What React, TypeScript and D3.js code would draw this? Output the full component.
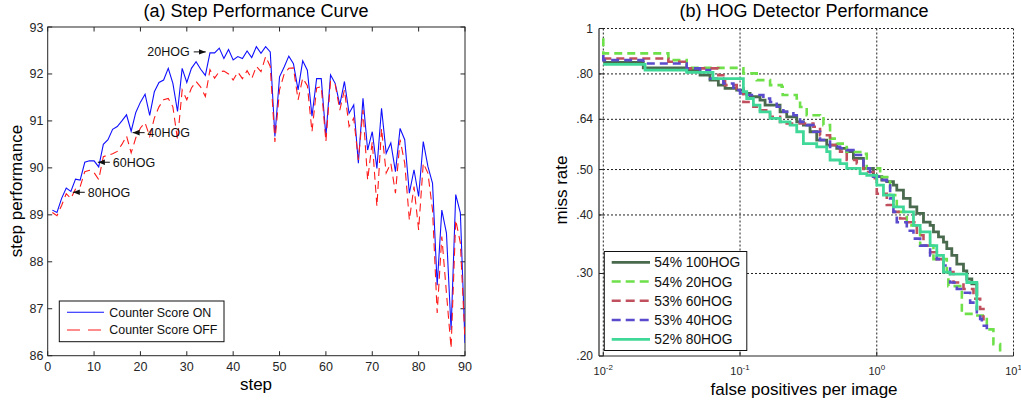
import React from 'react';
import * as d3 from 'd3';

// ---------- (a) Step Performance Curve ----------
const steps = d3.range(1, 91);
const counterOn = [
  89.10, 89.05, 89.35, 89.57, 89.50, 89.76, 89.74, 90.12, 90.15, 90.15,
  90.02, 90.50, 90.60, 90.82, 90.88, 91.00, 91.13, 90.78, 91.18, 91.40,
  91.57, 91.12, 91.62, 91.82, 91.87, 92.12, 91.80, 91.20, 92.12, 91.82,
  92.12, 92.26, 92.10, 91.97, 92.45, 92.45, 92.55, 92.33, 92.52, 92.30,
  92.37, 92.33, 92.49, 92.35, 92.58, 92.44, 92.58, 92.47, 90.67, 91.94,
  92.15, 92.38, 92.22, 91.66, 92.28, 92.08, 91.10, 91.90, 91.90, 90.67,
  91.98, 91.80, 91.34, 91.84, 91.16, 91.34, 90.10, 91.48, 90.38, 90.77,
  89.99, 91.27, 90.31, 90.53, 89.92, 90.84, 90.60, 89.46, 89.96, 89.39,
  90.56, 90.03, 89.67, 87.50, 89.10, 88.61, 86.55, 89.43, 89.04, 86.27,
];
const counterOff = [
  89.05, 88.98, 89.20, 89.45, 89.35, 89.55, 89.60, 89.92, 89.95, 89.90,
  89.75, 90.24, 90.27, 90.30, 90.35, 90.50, 90.68, 90.32, 90.64, 90.85,
  90.96, 90.67, 91.06, 91.30, 91.45, 91.48, 91.30, 90.60, 91.66, 91.45,
  91.70, 91.84, 91.72, 91.52, 92.09, 91.91, 92.05, 92.06, 92.00, 91.87,
  92.04, 91.90, 92.07, 91.90, 92.16, 92.05, 92.37, 92.16, 90.55, 91.66,
  92.00, 92.12, 92.13, 91.45, 91.91, 91.75, 90.77, 91.70, 91.73, 90.56,
  91.84, 91.78, 91.23, 91.66, 90.88, 91.06, 90.17, 91.23, 89.74, 90.56,
  89.18, 90.84, 89.89, 90.10, 89.46, 90.60, 90.10, 88.89, 89.60, 88.68,
  90.10, 89.89, 89.10, 86.91, 88.54, 87.33, 86.16, 88.89, 88.40, 86.34,
];
const annotations = [
  { label: '20HOG', step: 34.3, value: 92.47, dir: 'right' },
  { label: '40HOG', step: 18.1, value: 90.75, dir: 'left' },
  { label: '60HOG', step: 10.6, value: 90.12, dir: 'left' },
  { label: '80HOG', step: 5.2, value: 89.48, dir: 'left' },
];
const leftXTicks = [0, 10, 20, 30, 40, 50, 60, 70, 80, 90];
const leftYTicks = [86, 87, 88, 89, 90, 91, 92, 93];

// ---------- (b) HOG Detector Performance ----------
const hog100: [number, number][] = [
  [0.0100, 0.847], [0.0196, 0.847], [0.0196, 0.824], [0.0407, 0.824], [0.0407, 0.815],
  [0.0510, 0.795], [0.0603, 0.776], [0.0694, 0.757], [0.0777, 0.745], [0.0945, 0.739],
  [0.1058, 0.727], [0.1184, 0.715], [0.1400, 0.703], [0.1524, 0.686], [0.1962, 0.664],
  [0.2195, 0.648], [0.2598, 0.632], [0.2906, 0.622], [0.3251, 0.602], [0.3638, 0.578],
  [0.4305, 0.564], [0.5096, 0.555], [0.6031, 0.546], [0.6748, 0.528], [0.7987, 0.503],
  [0.9454, 0.483], [1.088, 0.475], [1.184, 0.471], [1.324, 0.463], [1.401, 0.452],
  [1.567, 0.434], [1.754, 0.416], [1.963, 0.403], [2.196, 0.386], [2.456, 0.380],
  [2.598, 0.368], [2.827, 0.359], [3.075, 0.350], [3.252, 0.339], [3.538, 0.328],
  [3.849, 0.314], [4.307, 0.304], [4.556, 0.292], [4.957, 0.285], [5.243, 0.285],
  [5.392, 0.273], [5.392, 0.269],
];
const hog20: [number, number][] = [
  [0.0100, 0.953], [0.0100, 0.885], [0.0299, 0.885], [0.0299, 0.856], [0.0407, 0.856],
  [0.0407, 0.824], [0.1000, 0.822], [0.1058, 0.802], [0.1324, 0.776], [0.1658, 0.757],
  [0.2018, 0.751], [0.2050, 0.721], [0.2598, 0.709], [0.2748, 0.680], [0.3074, 0.653],
  [0.3848, 0.643], [0.4074, 0.622], [0.4554, 0.582], [0.5096, 0.568], [0.6031, 0.545],
  [0.7987, 0.540], [0.8449, 0.503], [1.058, 0.482], [1.252, 0.441], [1.401, 0.406],
  [1.658, 0.380], [2.076, 0.344], [2.598, 0.322], [3.252, 0.302], [3.340, 0.282],
  [4.190, 0.246], [5.240, 0.244], [6.380, 0.228], [7.130, 0.212], [7.980, 0.212],
  [7.980, 0.200],
];
const hog60: [number, number][] = [
  [0.0100, 0.863], [0.0299, 0.863], [0.0299, 0.849], [0.0407, 0.849], [0.0407, 0.822],
  [0.0603, 0.822], [0.0694, 0.795], [0.0777, 0.757], [0.0945, 0.745], [0.1058, 0.697],
  [0.1252, 0.681], [0.1400, 0.669], [0.1658, 0.648], [0.1962, 0.632], [0.2195, 0.627],
  [0.2748, 0.627], [0.3439, 0.617], [0.3848, 0.592], [0.4554, 0.564], [0.5390, 0.546],
  [0.6031, 0.524], [0.7139, 0.515], [0.7987, 0.494], [0.9454, 0.479], [1.000, 0.444],
  [1.184, 0.420], [1.324, 0.406], [1.482, 0.393], [1.658, 0.386], [1.963, 0.362],
  [2.196, 0.344], [2.456, 0.333], [2.748, 0.322], [3.075, 0.302], [3.639, 0.287],
  [4.307, 0.278], [5.097, 0.265], [5.703, 0.252], [6.033, 0.244], [6.033, 0.238],
];
const hog40: [number, number][] = [
  [0.0100, 0.878], [0.0100, 0.856], [0.0196, 0.856], [0.0196, 0.842], [0.0299, 0.842],
  [0.0407, 0.822], [0.0510, 0.815], [0.0603, 0.782], [0.0755, 0.763], [0.0894, 0.739],
  [0.1000, 0.727], [0.1119, 0.721], [0.1324, 0.721], [0.1481, 0.709], [0.1658, 0.697],
  [0.1855, 0.681], [0.2075, 0.664], [0.2456, 0.653], [0.2748, 0.632], [0.3074, 0.622],
  [0.3439, 0.602], [0.3848, 0.578], [0.4554, 0.559], [0.5390, 0.555], [0.6031, 0.550],
  [0.6748, 0.537], [0.7987, 0.503], [0.8937, 0.483], [1.058, 0.475], [1.184, 0.463],
  [1.252, 0.434], [1.324, 0.406], [1.401, 0.386], [1.658, 0.370], [1.855, 0.356],
  [2.076, 0.344], [2.456, 0.328], [2.748, 0.322], [3.075, 0.312], [3.440, 0.287],
  [3.849, 0.278], [4.307, 0.273], [4.819, 0.260], [5.392, 0.248], [5.703, 0.240],
  [5.866, 0.232], [6.381, 0.228],
];
const hog80: [number, number][] = [
  [0.0100, 0.838], [0.0202, 0.838], [0.0202, 0.815], [0.0407, 0.815], [0.0407, 0.806],
  [0.0634, 0.804], [0.0634, 0.782], [0.1000, 0.782], [0.1058, 0.733], [0.1119, 0.709],
  [0.1252, 0.686], [0.1400, 0.664], [0.1658, 0.643], [0.1962, 0.632], [0.2322, 0.622],
  [0.2598, 0.602], [0.2906, 0.568], [0.3638, 0.559], [0.4305, 0.546], [0.4554, 0.524],
  [0.5390, 0.515], [0.6031, 0.503], [0.7551, 0.490], [0.8449, 0.486], [1.000, 0.463],
  [1.119, 0.441], [1.324, 0.416], [1.567, 0.406], [1.855, 0.380], [2.076, 0.368],
  [2.456, 0.344], [2.748, 0.328], [3.075, 0.302], [3.440, 0.299], [4.072, 0.299],
  [4.556, 0.287], [5.392, 0.258], [5.392, 0.250],
];
const detectorNames = ['54% 100HOG', '54% 20HOG', '53% 60HOG', '53% 40HOG', '52% 80HOG'];
const detectorData = [hog100, hog20, hog60, hog40, hog80];
const detectorColors = ['#4a6a4e', '#6ee04a', '#c0505e', '#5a4acc', '#40d898'];
const detectorDashed = [false, true, true, true, false];
const rightYTicks = [0.2, 0.3, 0.4, 0.5, 0.64, 0.8, 1];
const rightYLabels = ['.20', '.30', '.40', '.50', '.64', '.80', '1'];
const rightXTicks = [0.01, 0.1, 1, 10];
const rightXExp = ['-2', '-1', '0', '1'];

const FONT = 'Arial, "Liberation Sans", Helvetica, sans-serif';
const AX = '#262626';

export default function App() {
  // Left panel scales
  const xL = d3.scaleLinear().domain([0, 90]).range([47.7, 465]);
  const yL = d3.scaleLinear().domain([86, 93]).range([355.7, 27]);
  const lineL = (vals: number[]) =>
    d3.line<number>().x((_, i) => xL(steps[i])).y((v) => yL(v))(vals) || '';

  // Right panel scales
  const xR = d3.scaleLog().domain([0.0093, 10]).range([599, 1013.5]);
  const yR = d3.scaleLog().domain([0.2, 1]).range([356, 28.5]);
  const lineR = d3
    .line<[number, number]>()
    .x((d) => xR(d[0]))
    .y((d) => yR(d[1]))
    .curve(d3.curveStepAfter);

  const tk = 4.5;

  return (
    <svg
      width={1021}
      height={405}
      viewBox="0 0 1021 405"
      style={{ position: 'absolute', left: 0, top: 0, background: '#fff', fontFamily: FONT }}
    >
      <defs>
        <marker id="ah" viewBox="0 0 10 10" refX="10" refY="5" markerWidth="7" markerHeight="7" orient="auto" markerUnits="userSpaceOnUse">
          <path d="M0,1 L10,5 L0,9 z" fill="#111" />
        </marker>
        <clipPath id="clipR">
          <rect x={599} y={28} width={415} height={328.5} />
        </clipPath>
        <clipPath id="clipL">
          <rect x={47.7} y={27} width={417.3} height={328.7} />
        </clipPath>
      </defs>
      <rect x={0} y={0} width={1021} height={405} fill="#fff" />

      {/* ===== Left panel ===== */}
      <text x={256} y={16.5} textAnchor="middle" fontSize={18} fill="#000">(a) Step Performance Curve</text>
      <rect x={xL(0)} y={yL(93)} width={xL(90) - xL(0)} height={yL(86) - yL(93)} fill="none" stroke={AX} strokeWidth={1} />
      {leftXTicks.map((t) => (
        <g key={'lx' + t}>
          <line x1={xL(t)} x2={xL(t)} y1={yL(86)} y2={yL(86) - tk} stroke={AX} />
          <line x1={xL(t)} x2={xL(t)} y1={yL(93)} y2={yL(93) + tk} stroke={AX} />
          <text x={xL(t)} y={371} textAnchor="middle" fontSize={12.5} fill={AX}>{t}</text>
        </g>
      ))}
      {leftYTicks.map((t) => (
        <g key={'ly' + t}>
          <line x1={xL(0)} x2={xL(0) + tk} y1={yL(t)} y2={yL(t)} stroke={AX} />
          <line x1={xL(90)} x2={xL(90) - tk} y1={yL(t)} y2={yL(t)} stroke={AX} />
          <text x={43.5} y={yL(t) + 4.5} textAnchor="end" fontSize={12.5} fill={AX}>{t}</text>
        </g>
      ))}
      <g clipPath="url(#clipL)">
        <path d={lineL(counterOn)} fill="none" stroke="#1010ff" strokeWidth={1.1} />
        <path d={lineL(counterOff)} fill="none" stroke="#ff1a1a" strokeWidth={1.1} strokeDasharray="8,5" />
      </g>
      {annotations.map((a) => {
        const px = xL(a.step);
        const py = yL(a.value);
        if (a.dir === 'right') {
          return (
            <g key={a.label}>
              <line x1={px - 13} x2={px - 1} y1={py} y2={py} stroke="#111" strokeWidth={1} markerEnd="url(#ah)" />
              <text x={px - 17} y={py + 4} textAnchor="end" fontSize={12.5} fill="#111">{a.label}</text>
            </g>
          );
        }
        return (
          <g key={a.label}>
            <line x1={px + 13} x2={px + 1} y1={py} y2={py} stroke="#111" strokeWidth={1} markerEnd="url(#ah)" />
            <text x={px + 16} y={py + 4.5} fontSize={12.5} fill="#111">{a.label}</text>
          </g>
        );
      })}
      {/* left legend */}
      <rect x={59.3} y={301} width={164.7} height={40.7} fill="#fff" stroke="#111" strokeWidth={1} />
      <line x1={67} x2={104} y1={312.3} y2={312.3} stroke="#1010ff" strokeWidth={1.1} />
      <text x={109.3} y={316.6} fontSize={12.4} fill="#111">Counter Score ON</text>
      <line x1={67} x2={104} y1={330} y2={330} stroke="#ff1a1a" strokeWidth={1.1} strokeDasharray="13,8" />
      <text x={109.3} y={334.3} fontSize={12.4} fill="#111">Counter Score OFF</text>
      <text x={256} y={390} textAnchor="middle" fontSize={17} fill="#000">step</text>
      <text transform="translate(22,191) rotate(-90)" textAnchor="middle" fontSize={17} fill="#000">step performance</text>

      {/* ===== Right panel ===== */}
      <text x={804} y={16.5} textAnchor="middle" fontSize={18} fill="#000">(b) HOG Detector Performance</text>
      {rightXTicks.map((t) => (
        <line key={'gx' + t} x1={xR(t)} x2={xR(t)} y1={yR(1)} y2={yR(0.2)} stroke="#222" strokeWidth={1} strokeDasharray="2,2" />
      ))}
      {rightYTicks.filter((t) => t > 0.2).map((t) => (
        <line key={'gy' + t} x1={599} x2={xR(10)} y1={yR(t)} y2={yR(t)} stroke="#222" strokeWidth={1} strokeDasharray="2,2" />
      ))}
      <line x1={599} x2={599} y1={yR(1)} y2={yR(0.2)} stroke={AX} strokeWidth={1.2} />
      <line x1={599} x2={xR(10)} y1={yR(0.2)} y2={yR(0.2)} stroke={AX} strokeWidth={1.2} />
      {rightYTicks.map((t, i) => (
        <g key={'ry' + t}>
          <line x1={599} x2={599 + tk} y1={yR(t)} y2={yR(t)} stroke={AX} />
          <text x={593} y={yR(t) + 4} textAnchor="end" fontSize={12} fill={AX}>{rightYLabels[i]}</text>
        </g>
      ))}
      {rightXTicks.map((t, i) => (
        <g key={'rx' + t}>
          <line x1={xR(t)} x2={xR(t)} y1={yR(0.2)} y2={yR(0.2) - tk} stroke={AX} />
          <text x={xR(t)} y={375} textAnchor="middle" fontSize={11} fill={AX}>
            <tspan>10</tspan>
            <tspan dy={-5} fontSize={8}>{rightXExp[i]}</tspan>
          </text>
        </g>
      ))}
      <g clipPath="url(#clipR)">
        {detectorData.map((d, i) => (
          <path
            key={detectorNames[i]}
            d={lineR(d) || ''}
            fill="none"
            stroke={detectorColors[i]}
            strokeWidth={detectorDashed[i] ? 2.6 : 2.8}
            strokeDasharray={detectorDashed[i] ? '8,5' : undefined}
            strokeLinejoin="miter"
          />
        ))}
      </g>
      {/* right legend */}
      <rect x={604.3} y={251.5} width={142.5} height={99} fill="#fff" stroke="#111" strokeWidth={1} />
      {detectorNames.map((n, i) => {
        const cy = 262.3 + i * 19.25;
        return (
          <g key={'lg' + n}>
            <line x1={611.7} x2={650} y1={cy} y2={cy} stroke={detectorColors[i]} strokeWidth={detectorDashed[i] ? 2.6 : 2.8} strokeDasharray={detectorDashed[i] ? '9,5' : undefined} />
            <text x={654.3} y={cy + 5} fontSize={13.8} fill="#111">{n}</text>
          </g>
        );
      })}
      <text x={804} y={395} textAnchor="middle" fontSize={17} fill="#000">false positives per image</text>
      <text transform="translate(567,190) rotate(-90)" textAnchor="middle" fontSize={17} fill="#000">miss rate</text>
    </svg>
  );
}
